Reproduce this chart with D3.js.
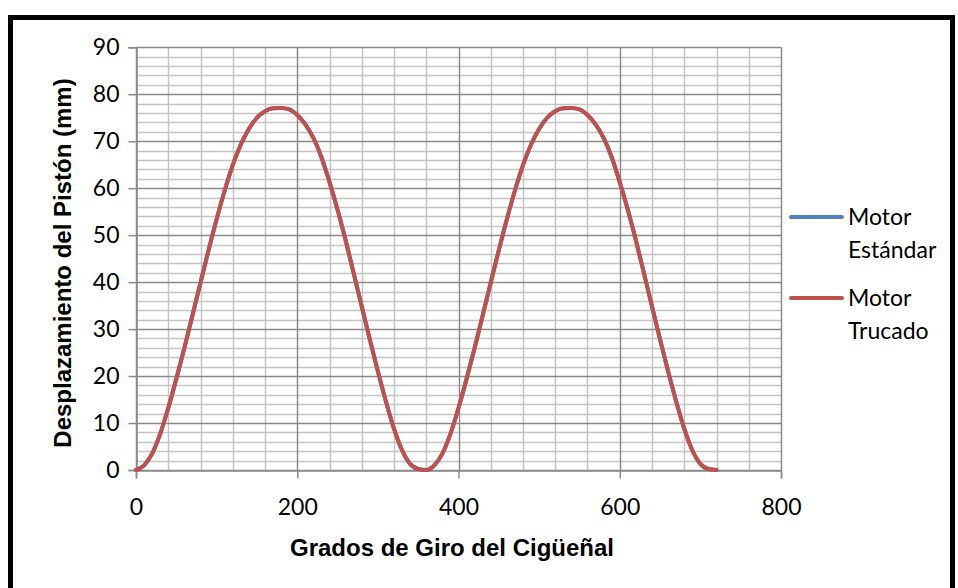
<!DOCTYPE html>
<html>
<head>
<meta charset="utf-8">
<script src="https://cdn.jsdelivr.net/npm/d3@7"></script>
<style>
  body { margin: 0; background: #fff; }
  text { fill: #000; }
</style>
</head>
<body>
<svg id="chart" width="958" height="588"></svg>
<script>
// Crank angle (degrees)
const grados = [
  0, 10, 20, 30, 40, 50, 60, 70, 80, 90, 100, 110, 120, 130, 140, 150, 160, 170, 180,
  190, 200, 210, 220, 230, 240, 250, 260, 270, 280, 290, 300, 310, 320, 330, 340, 350, 360,
  370, 380, 390, 400, 410, 420, 430, 440, 450, 460, 470, 480, 490, 500, 510, 520, 530, 540,
  550, 560, 570, 580, 590, 600, 610, 620, 630, 640, 650, 660, 670, 680, 690, 700, 710, 720
];

// Piston displacement (mm)
const motorEstandar = [
  0, 1, 3.5, 7.7, 13.2, 19.4, 26, 32.9, 39.9, 46.8, 53.4, 59.5, 64.9, 69.3, 72.6, 75, 76.4, 77, 77.1,
  76.8, 75.6, 73.6, 70.7, 66.6, 61.3, 55.4, 48.9, 41.9, 34.8, 27.8, 21, 14.6, 8.8, 4.2, 1.3, 0.2, 0,
  1, 3.5, 7.7, 13.2, 19.4, 26, 32.9, 39.9, 46.8, 53.4, 59.5, 64.9, 69.3, 72.6, 75, 76.4, 77, 77.1,
  76.8, 75.6, 73.6, 70.7, 66.6, 61.3, 55.4, 48.9, 41.9, 34.8, 27.8, 21, 14.6, 8.8, 4.2, 1.3, 0.2, 0
];
const motorTrucado = [
  0, 1, 3.5, 7.7, 13.2, 19.4, 26, 32.9, 39.9, 46.8, 53.4, 59.5, 64.9, 69.3, 72.6, 75, 76.4, 77, 77.1,
  76.8, 75.6, 73.6, 70.7, 66.6, 61.3, 55.4, 48.9, 41.9, 34.8, 27.8, 21, 14.6, 8.8, 4.2, 1.3, 0.2, 0,
  1, 3.5, 7.7, 13.2, 19.4, 26, 32.9, 39.9, 46.8, 53.4, 59.5, 64.9, 69.3, 72.6, 75, 76.4, 77, 77.1,
  76.8, 75.6, 73.6, 70.7, 66.6, 61.3, 55.4, 48.9, 41.9, 34.8, 27.8, 21, 14.6, 8.8, 4.2, 1.3, 0.2, 0
];

const seriesNames = ["Motor Estándar", "Motor Trucado"];
const seriesColors = ["#4F81BD", "#C0504D"];

const xTicks = [0, 200, 400, 600, 800];
const xMinor = [0, 40, 80, 120, 160, 200, 240, 280, 320, 360, 400, 440, 480, 520, 560, 600, 640, 680, 720, 760, 800];
const yTicks = [0, 10, 20, 30, 40, 50, 60, 70, 80, 90];

const svg = d3.select("#chart");

// plot area
const plot = {left: 136, right: 781, top: 47.3, bottom: 470};

const x = d3.scaleLinear().domain([0, 800]).range([plot.left, plot.right]);
const y = d3.scaleLinear().domain([0, 90]).range([plot.bottom, plot.top]);

const numFont = "Lato, 'Open Sans', sans-serif";
const boldFont = "'Liberation Sans', Arial, sans-serif";

// outer frame
svg.append("rect")
  .attr("x", 10.5).attr("y", 17.5)
  .attr("width", 942).attr("height", 620)
  .attr("fill", "none")
  .attr("stroke", "#000")
  .attr("stroke-width", 5);

// minor horizontal grid (every 2)
const yMinor = d3.range(0, 91, 2).filter(v => v % 10 !== 0);
svg.append("g").selectAll("line")
  .data(yMinor).enter().append("line")
  .attr("x1", plot.left).attr("x2", plot.right)
  .attr("y1", d => Math.round(y(d)) + 0.5).attr("y2", d => Math.round(y(d)) + 0.5)
  .attr("stroke", "#c4c4c4").attr("stroke-width", 1.5);

// minor vertical grid (every 40)
svg.append("g").selectAll("line")
  .data(xMinor.filter(v => v % 200 !== 0)).enter().append("line")
  .attr("x1", d => Math.round(x(d)) + 0.5).attr("x2", d => Math.round(x(d)) + 0.5)
  .attr("y1", plot.top).attr("y2", plot.bottom)
  .attr("stroke", "#c4c4c4").attr("stroke-width", 1.5);

// major horizontal grid
svg.append("g").selectAll("line")
  .data(yTicks).enter().append("line")
  .attr("x1", plot.left).attr("x2", plot.right)
  .attr("y1", d => Math.round(y(d)) + 0.5).attr("y2", d => Math.round(y(d)) + 0.5)
  .attr("stroke", "#8a8a8a").attr("stroke-width", 1.5);

// major vertical grid
svg.append("g").selectAll("line")
  .data(xTicks).enter().append("line")
  .attr("x1", d => Math.round(x(d)) + 0.5).attr("x2", d => Math.round(x(d)) + 0.5)
  .attr("y1", plot.top).attr("y2", plot.bottom)
  .attr("stroke", "#8a8a8a").attr("stroke-width", 1.5);

// axes
const yAxis = d3.axisLeft(y).tickValues(yTicks).tickSize(8).tickPadding(9);
const gy = svg.append("g")
  .attr("transform", `translate(${plot.left + 0.5},0)`)
  .call(yAxis);

const xAxis = d3.axisBottom(x).tickValues(xTicks).tickSize(8).tickPadding(20);
const gx = svg.append("g")
  .attr("transform", `translate(0,${plot.bottom + 0.5})`)
  .call(xAxis);

[gx, gy].forEach(g => {
  g.select(".domain").attr("stroke", "#8a8a8a").attr("stroke-width", 1.5);
  g.selectAll(".tick line").attr("stroke", "#8a8a8a").attr("stroke-width", 1.5);
  g.selectAll(".tick text")
    .style("font-family", numFont)
    .style("font-size", "23px")
    .attr("fill", "#000");
});

// lines
const line = d3.line()
  .x((d, i) => x(grados[i]))
  .y(d => y(d))
  .curve(d3.curveMonotoneX);

[motorEstandar, motorTrucado].forEach((s, i) => {
  svg.append("path")
    .datum(s)
    .attr("d", line)
    .attr("fill", "none")
    .attr("stroke", seriesColors[i])
    .attr("stroke-width", 4)
    .attr("stroke-linecap", "round")
    .attr("stroke-linejoin", "round");
});

// axis titles
svg.append("text")
  .attr("x", 452).attr("y", 556)
  .attr("text-anchor", "middle")
  .style("font-family", boldFont)
  .style("font-size", "24px")
  .style("font-weight", "bold")
  .text("Grados de Giro del Cigüeñal");

svg.append("text")
  .attr("transform", "translate(71,263) rotate(-90)")
  .attr("text-anchor", "middle")
  .style("font-family", boldFont)
  .style("font-size", "24px")
  .style("font-weight", "bold")
  .text("Desplazamiento del Pistón (mm)");

// legend
const legend = svg.append("g");
const legendY = [217, 298];
seriesNames.forEach((name, i) => {
  legend.append("line")
    .attr("x1", 791).attr("x2", 842)
    .attr("y1", legendY[i]).attr("y2", legendY[i])
    .attr("stroke", seriesColors[i])
    .attr("stroke-width", 4)
    .attr("stroke-linecap", "round");
  const parts = name.split(" ");
  const t = legend.append("text")
    .attr("x", 848)
    .attr("y", legendY[i] + 8)
    .style("font-family", numFont)
    .style("font-size", "23px");
  t.append("tspan").attr("x", 848).text(parts[0]);
  t.append("tspan").attr("x", 848).attr("dy", 33).text(parts[1]);
});
</script>
</body>
</html>
